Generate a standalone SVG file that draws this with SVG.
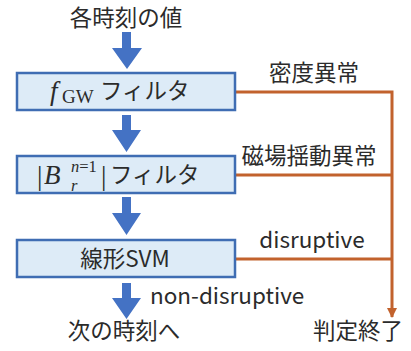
<svg xmlns="http://www.w3.org/2000/svg" width="411" height="351" viewBox="0 0 411 351">
<style>
.box{fill:#DDEBF7;stroke:#3F6DB3;stroke-width:2.5}
.t{font-family:"Noto Sans CJK JP","Noto Sans",sans-serif;font-size:22.5px;fill:#2b2b2b}
.m{font-family:"Liberation Serif","DejaVu Serif",serif;fill:#2b2b2b}
.o{stroke:#C2622D;stroke-width:3;fill:none}
.ba{fill:#4472C4}
</style>
<defs>
<marker id="oa" viewBox="0 0 10 10" refX="9" refY="5" markerWidth="3.4" markerHeight="3.4" orient="auto" markerUnits="strokeWidth">
<path d="M0,0 L10,5 L0,10 Z" fill="#C2622D"/>
</marker>
</defs>
<rect width="411" height="351" fill="#fff"/>
<g id="start"><text class="t" x="126" y="26" text-anchor="middle">各時刻の値</text></g>
<g id="connectors">
<path class="ba" d="M122,32 H131 V48 H142 L127,69 L112,48 H122 Z"/>
<path class="ba" d="M122,115 H131 V130 H141 L126.5,152 L112,130 H122 Z"/>
<path class="ba" d="M122,197 H131 V213 H141 L126.5,235 L112,213 H122 Z"/>
<path class="ba" d="M122,283 H131 V298 H141 L126.5,319 L112,298 H122 Z"/>
<path class="o" d="M235,92 H392 V317" marker-end="url(#oa)"/>
<path class="o" d="M235,175 H392"/>
<path class="o" d="M235,259 H392"/>
</g>
<g id="f1">
<rect class="box" x="17" y="73" width="218" height="37"/>
<text class="m" x="50" y="100" font-size="27" font-style="italic">f</text>
<text class="m" x="62" y="103" font-size="19">GW</text>
<text class="t" x="100" y="99">フィルタ</text>
</g>
<g id="f2">
<rect class="box" x="17" y="156" width="218" height="37"/>
<text class="m" x="37" y="185" font-size="27">|</text>
<text class="m" x="44" y="184" font-size="27" font-style="italic">B</text>
<text class="m" x="71" y="172" font-size="16.5" font-style="italic">n<tspan font-style="normal">=1</tspan></text>
<text class="m" x="71" y="191" font-size="16.5" font-style="italic">r</text>
<text class="m" x="101" y="185" font-size="27">|</text>
<text class="t" x="110" y="183">フィルタ</text>
</g>
<g id="svm">
<rect class="box" x="17" y="240" width="218" height="37"/>
<text class="t" x="125" y="267" text-anchor="middle">線形SVM</text>
</g>
<g id="labels">
<text class="t" x="314" y="81" text-anchor="middle">密度異常</text>
<text class="t" x="309" y="164" text-anchor="middle">磁場揺動異常</text>
<text class="t" x="312" y="248" text-anchor="middle">disruptive</text>
<text class="t" x="150" y="304">non-disruptive</text>
</g>
<g id="next"><text class="t" x="124" y="339" text-anchor="middle">次の時刻へ</text></g>
<g id="end"><text class="t" x="358" y="339" text-anchor="middle">判定終了</text></g>
</svg>
